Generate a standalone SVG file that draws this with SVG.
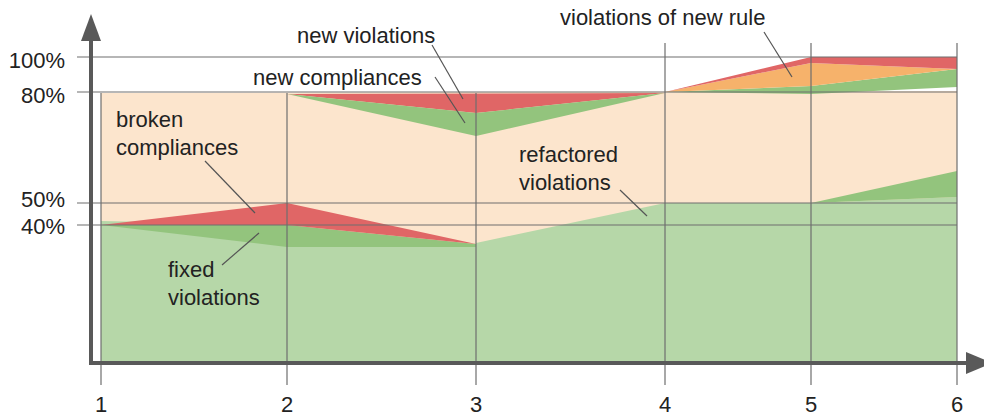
<svg xmlns="http://www.w3.org/2000/svg" width="984" height="418" viewBox="0 0 984 418">
<style>
.t{font-family:"Liberation Sans",Arial,sans-serif;font-size:22px;fill:#222}
.grid{stroke:#6e6e6e;stroke-width:1.2;fill:none}
.ptr{stroke:#555;stroke-width:1.2;fill:none}
.ax{stroke:#595959;stroke-width:4;fill:none}
.peach{fill:#fce5cd}
.lg{fill:#b6d7a8}
.mg{fill:#93c47d}
.red{fill:#e06666}
.or{fill:#f6b26b}
</style>
<rect width="984" height="418" fill="#ffffff"/>
<g id="areas">
  <polygon class="peach" points="101,93 957,91 957,362 101,362"/>
  <polygon class="lg" points="101,221 287,225 476,247 476,243 665,203 811,203 957,197 957,362 101,362"/>
  <polygon class="mg" points="101,225 287,225 476,244 476,247 287,247"/>
  <polygon class="red" points="101,225 287,203 476,244 287,225"/>
  <polygon class="mg" points="811,203 957,171 957,197"/>
  <polygon class="red" points="287,94 665,93 476,113"/>
  <polygon class="mg" points="287,94 476,113 665,93 476,136"/>
  <polygon class="mg" points="665,92 811,86 957,69 957,87 811,94"/>
  <polygon class="or" points="665,92 811,63 957,69 811,86"/>
  <polygon class="red" points="665,92 811,57 957,57 957,69 811,63"/>
</g>
<g id="grid">
  <line class="grid" x1="77" y1="57" x2="957" y2="57"/>
  <line class="grid" x1="77" y1="92" x2="957" y2="92"/>
  <line class="grid" x1="77" y1="203" x2="957" y2="203"/>
  <line class="grid" x1="77" y1="225" x2="957" y2="225"/>
  <line class="grid" x1="101" y1="93" x2="101" y2="385"/>
  <line class="grid" x1="287" y1="93" x2="287" y2="385"/>
  <line class="grid" x1="476" y1="93" x2="476" y2="385"/>
  <line class="grid" x1="665" y1="43" x2="665" y2="385"/>
  <line class="grid" x1="811" y1="43" x2="811" y2="385"/>
  <line class="grid" x1="957" y1="43" x2="957" y2="385"/>
</g>
<g id="axes">
  <polyline class="ax" points="91,38 91,363 968,363"/>
  <polygon fill="#595959" points="81,41 91,14 101,41"/>
  <polygon fill="#595959" points="966,352 992,363 966,374"/>
</g>
<g id="connectors">
  <line class="ptr" x1="205" y1="161" x2="255" y2="213"/>
  <line class="ptr" x1="222" y1="265" x2="259" y2="233"/>
  <line class="ptr" x1="432" y1="45" x2="463" y2="99"/>
  <line class="ptr" x1="435" y1="77" x2="465" y2="123"/>
  <line class="ptr" x1="764" y1="32" x2="792" y2="77"/>
  <line class="ptr" x1="620" y1="190" x2="647" y2="216"/>
</g>
<g id="labels">
  <text class="t" x="65" y="68" text-anchor="end">100%</text>
  <text class="t" x="65" y="103" text-anchor="end">80%</text>
  <text class="t" x="65" y="207" text-anchor="end">50%</text>
  <text class="t" x="65" y="234" text-anchor="end">40%</text>
  <text class="t" x="101" y="412" text-anchor="middle">1</text>
  <text class="t" x="287" y="412" text-anchor="middle">2</text>
  <text class="t" x="476" y="412" text-anchor="middle">3</text>
  <text class="t" x="665" y="412" text-anchor="middle">4</text>
  <text class="t" x="811" y="412" text-anchor="middle">5</text>
  <text class="t" x="957" y="412" text-anchor="middle">6</text>
</g>
<g id="node-broken-compliances">
  <text class="t" x="116" y="127">broken</text>
  <text class="t" x="116" y="155">compliances</text>
</g>
<g id="node-fixed-violations">
  <text class="t" x="168" y="277">fixed</text>
  <text class="t" x="168" y="305">violations</text>
</g>
<g id="node-new-violations">
  <text class="t" x="297" y="43">new violations</text>
</g>
<g id="node-new-compliances">
  <text class="t" x="253" y="85">new compliances</text>
</g>
<g id="node-refactored-violations">
  <text class="t" x="519" y="162">refactored</text>
  <text class="t" x="519" y="190">violations</text>
</g>
<g id="node-violations-new-rule">
  <text class="t" x="560" y="25">violations of new rule</text>
</g>
</svg>
